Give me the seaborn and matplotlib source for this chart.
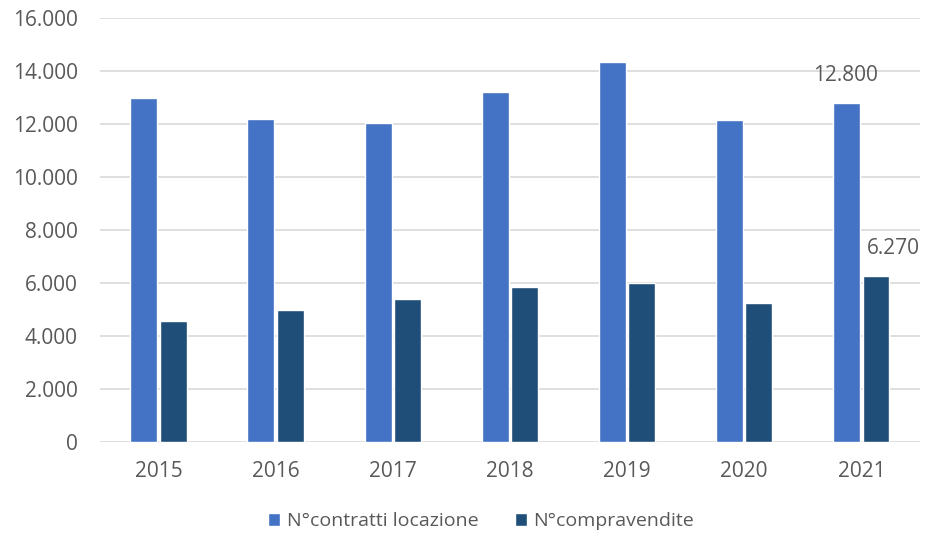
import pandas as pd
import seaborn as sns
import matplotlib.pyplot as plt
from matplotlib.ticker import FuncFormatter, MultipleLocator

# data
years = ["2015", "2016", "2017", "2018", "2019", "2020", "2021"]
locazioni = [12970, 12200, 12050, 13200, 14330, 12140, 12800]
compravendite = [4570, 4980, 5400, 5840, 5990, 5250, 6270]
series_names = ["N°contratti locazione", "N°compravendite"]

df = pd.DataFrame({
    "anno": years * 2,
    "valore": locazioni + compravendite,
    "serie": [series_names[0]] * len(years) + [series_names[1]] * len(years),
})

sns.set_style("white")
plt.rcParams["font.family"] = ["Open Sans", "DejaVu Sans"]
text_col = "#595959"
fs = 15

fig = plt.figure(figsize=(9.33, 5.37), dpi=100)
ax = fig.add_axes([0.107, 0.177, 0.879, 0.789])

sns.barplot(data=df, x="anno", y="valore", hue="serie",
            palette=["#4472C4", "#1F4E79"], width=0.5, gap=0.08,
            saturation=1, ax=ax, legend=True)

ax.set_ylim(0, 16000)
ax.yaxis.set_major_locator(MultipleLocator(2000))
ax.yaxis.set_major_formatter(FuncFormatter(lambda v, p: f"{int(v):,}".replace(",", ".")))
ax.grid(axis="y", color="#D9D9D9", linewidth=1.2)
ax.set_axisbelow(True)
for s in ax.spines.values():
    s.set_visible(False)
ax.tick_params(axis="both", length=0, labelsize=fs, colors=text_col)
ax.tick_params(axis="y", pad=16)
ax.tick_params(axis="x", pad=14)
ax.set_xlabel("")
ax.set_ylabel("")

# labels on the last year
fmt = lambda v: f"{v:,}".replace(",", ".")
last = len(years) - 1
ax.annotate(fmt(locazioni[last]), xy=(last - 0.135, locazioni[last]),
            xytext=(0, 12), textcoords="offset points", ha="center", va="bottom",
            fontsize=fs, color=text_col)
ax.annotate(fmt(compravendite[last]), xy=(last + 0.135, compravendite[last]),
            xytext=(12, 12), textcoords="offset points", ha="center", va="bottom",
            fontsize=fs, color=text_col)

handles, labels = ax.get_legend_handles_labels()
ax.legend(handles, labels, loc="upper center", bbox_to_anchor=(0.465, -0.125),
          ncol=2, frameon=False, fontsize=14, labelcolor=text_col,
          handlelength=0.6, handleheight=0.6, handletextpad=0.35, columnspacing=1.9)

fig.savefig("out.png", dpi=100)
